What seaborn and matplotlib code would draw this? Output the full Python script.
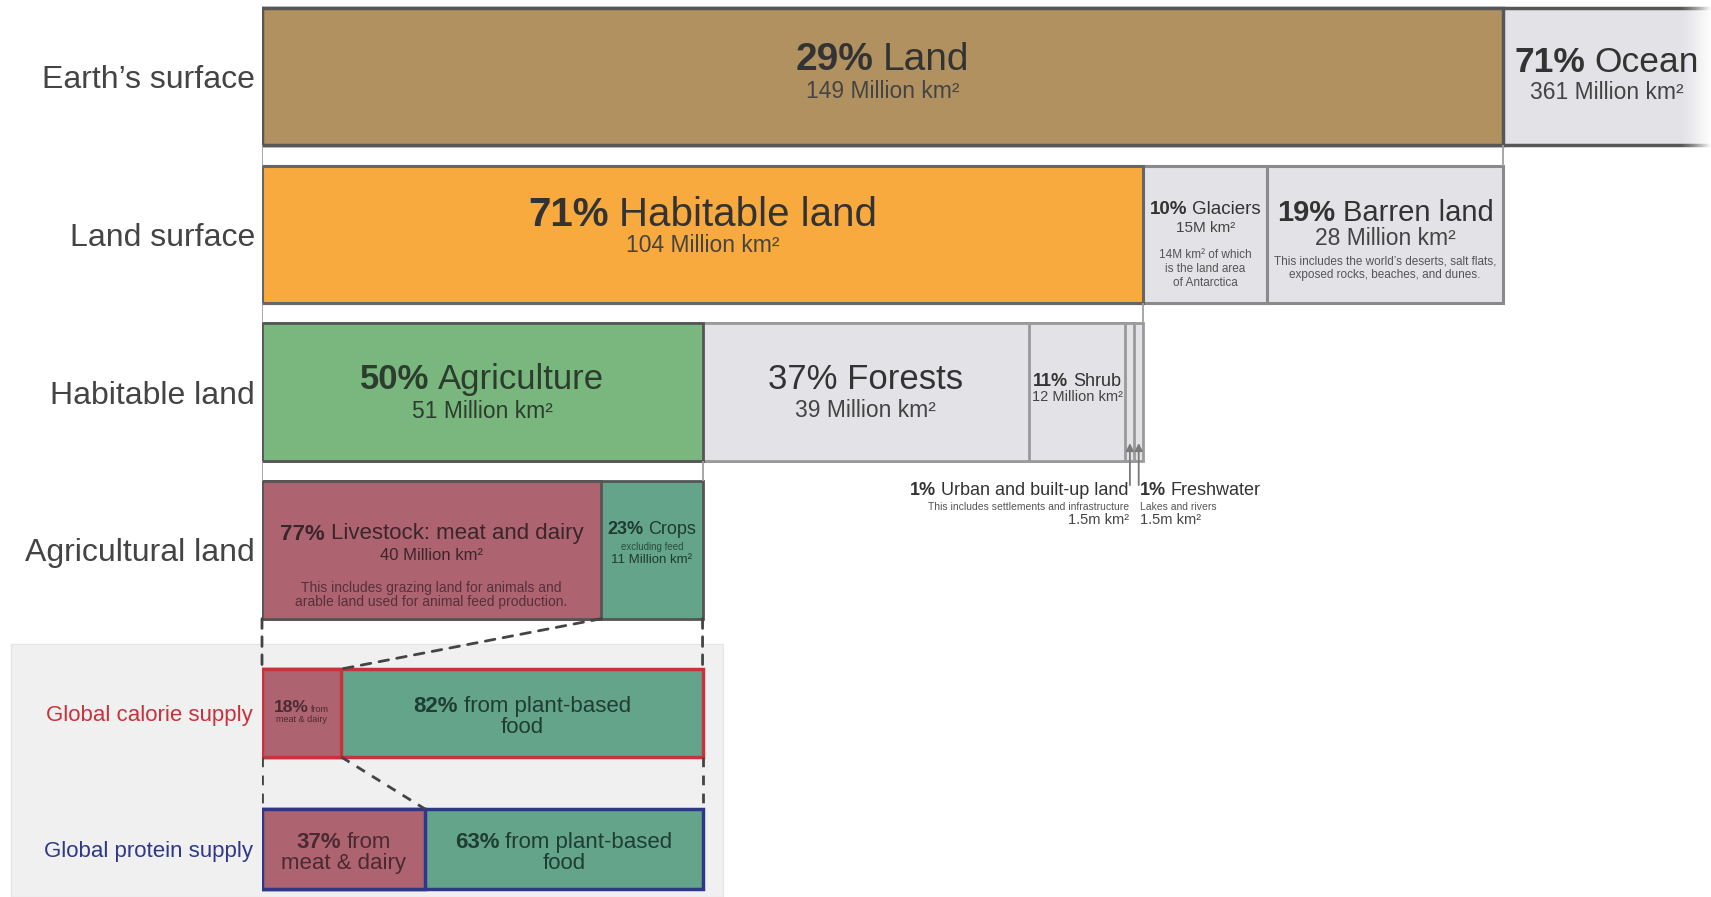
import numpy as np
import matplotlib
matplotlib.use("Agg")
import matplotlib.pyplot as plt
import seaborn as sns
from matplotlib.offsetbox import TextArea, HPacker, VPacker, AnnotationBbox
from matplotlib.patches import Rectangle, ConnectionPatch

# ---------------------------------------------------------------------------
# Data: how the Earth's surface is used (shares in %, areas in million km²)
# ---------------------------------------------------------------------------
rows = ["Earth’s surface", "Land surface", "Habitable land", "Agricultural land"]
supply_rows = ["Global calorie supply", "Global protein supply"]

earth_names = ["Land", "Ocean"]
earth_pct = [29, 71]
earth_area = [149, 361]

land_names = ["Habitable land", "Glaciers", "Barren land"]
land_pct = [71, 10, 19]
land_area = [104, 15, 28]

habitable_names = ["Agriculture", "Forests", "Shrub", "Urban and built-up land", "Freshwater"]
habitable_pct = [50, 37, 11, 1, 1]
habitable_area = [51, 39, 12, 1.5, 1.5]

agri_names = ["Livestock: meat and dairy", "Crops"]
agri_pct = [77, 23]
agri_area = [40, 11]

calorie_pct = [18, 82]
protein_pct = [37, 63]

# ---------------------------------------------------------------------------
# Styling
# ---------------------------------------------------------------------------
sns.set_theme(style="white")
plt.rcParams["font.family"] = ["Liberation Sans", "DejaVu Sans"]

BROWN, ORANGE, GREEN, GREY = "#b1915f", "#f8aa3e", "#7ab77f", "#e3e2e7"
MEAT, PLANT = "#ae6470", "#64a48b"
RED, BLUE = "#c8323b", "#2f3788"
TXT, TXT2 = "#333333", "#444444"

W, H = 1711, 897
X0 = 262                      # left edge of the bars (px)
UNIT = 12.41                  # px per unit; the land row spans 100 units
XMAX = (W - X0) / UNIT
TOP_BOTTOM = 640              # px where the upper block ends
ROW0, STEP = 76.3, 157.9      # upper rows: centre of first row, spacing (px)
SUP0, SSTEP = 713.0, 136.0    # supply rows: centre of first row, spacing (px)
BAR_H = 0.87
CAL_H, PRO_H = 0.647, 0.588

fig = plt.figure(figsize=(W / 100, H / 100), dpi=100)
fig.patch.set_facecolor("white")
ax = fig.add_axes([X0 / W, (H - TOP_BOTTOM) / H, (W - X0) / W, TOP_BOTTOM / H])
axb = fig.add_axes([X0 / W, 0, (W - X0) / W, (H - TOP_BOTTOM) / H])
for a in (ax, axb):
    a.set_facecolor("none")

# widths of every segment, each row scaled to the segment it splits up
land_w = np.array(land_pct, float)
earth_w = land_w.sum() * np.array(earth_pct, float) / earth_pct[0]
hab_w = land_w[0] * np.array(habitable_pct, float) / 100
agri_w = hab_w[0] * np.array(agri_pct, float) / 100
cal_w = agri_w.sum() * np.array(calorie_pct, float) / 100
pro_w = agri_w.sum() * np.array(protein_pct, float) / 100


def stacked(axis, order, row, widths, colors, edges, lw, height):
    """Stacked horizontal bar: cumulative bars drawn longest first."""
    ends = np.cumsum(widths)
    for end, c, e in reversed(list(zip(ends, colors, edges))):
        sns.barplot(x=[end], y=[row], order=order, orient="h", color=c,
                    saturation=1, edgecolor=e, linewidth=lw, width=height,
                    errorbar=None, ax=axis)
    return ends - widths, ends


e_s, e_e = stacked(ax, rows, rows[0], earth_w, [BROWN, GREY], ["#575757"] * 2, 2.5, BAR_H)
l_s, l_e = stacked(ax, rows, rows[1], land_w, [ORANGE, GREY, GREY],
                   ["#666666", "#8a8a8a", "#8a8a8a"], 2.2, BAR_H)
h_s, h_e = stacked(ax, rows, rows[2], hab_w, [GREEN] + [GREY] * 4,
                   ["#555555"] + ["#9a9a9a"] * 4, 2.0, BAR_H)
a_s, a_e = stacked(ax, rows, rows[3], agri_w, [MEAT, PLANT], ["#555555"] * 2, 2.0, BAR_H)
c_s, c_e = stacked(axb, supply_rows, supply_rows[0], cal_w, [MEAT, PLANT], [RED, RED], 2.5, CAL_H)
p_s, p_e = stacked(axb, supply_rows, supply_rows[1], pro_w, [MEAT, PLANT], [BLUE, BLUE], 2.5, PRO_H)


def mid(s, e, i):
    return (s[i] + e[i]) / 2


def ty(row, dpx):
    return row + dpx / STEP


def by(row, dpx):
    return row + dpx / SSTEP


def label(axis, x, y, lines, color=TXT, ha=0.5, line_sep=0):
    """Text block; each line is (parts, size) with parts as (text, weight[, size])."""
    boxes = []
    for parts, size in lines:
        kids = [TextArea(p[0], textprops=dict(fontsize=p[2] if len(p) > 2 else size,
                                              fontweight=p[1], color=color))
                for p in parts]
        if len(kids) == 1:
            boxes.append(kids[0])
        else:
            boxes.append(HPacker(children=kids, align="baseline", pad=0, sep=size * 0.26))
    box = boxes[0] if len(boxes) == 1 else VPacker(children=boxes, align="center", pad=0, sep=line_sep)
    ab = AnnotationBbox(box, (x, y), xycoords="data", frameon=False, pad=0,
                        box_alignment=(ha, 0.5), annotation_clip=False)
    ab.set_zorder(10)
    axis.add_artist(ab)


B, N = "bold", "normal"

# Earth's surface
label(ax, mid(e_s, e_e, 0), ty(0, -16), [([(f"{earth_pct[0]}%", B), (earth_names[0], N)], 28)])
label(ax, mid(e_s, e_e, 0), ty(0, 15), [([(f"{earth_area[0]} Million km²", N)], 16.5)], TXT2)
ocean_x = (e_s[1] + XMAX) / 2
label(ax, ocean_x, ty(0, -14), [([(f"{earth_pct[1]}%", B), (earth_names[1], N)], 25.5)])
label(ax, ocean_x, ty(0, 16), [([(f"{earth_area[1]} Million km²", N)], 16.5)], TXT2)

# Land surface
label(ax, mid(l_s, l_e, 0), ty(1, -19), [([(f"{land_pct[0]}%", B), (land_names[0], N)], 29)])
label(ax, mid(l_s, l_e, 0), ty(1, 11), [([(f"{land_area[0]} Million km²", N)], 16.5)], TXT2)
gx = mid(l_s, l_e, 1)
label(ax, gx, ty(1, -25), [([(f"{land_pct[1]}%", B), (land_names[1], N)], 13.5)])
label(ax, gx, ty(1, -6), [([(f"{land_area[1]}M km²", N)], 11)], TXT2)
label(ax, gx, ty(1, 35), [([("14M km² of which", N)], 8.5), ([("is the land area", N)], 8.5),
                          ([("of Antarctica", N)], 8.5)], "#555555", line_sep=1.5)
bx = mid(l_s, l_e, 2)
label(ax, bx, ty(1, -21), [([(f"{land_pct[2]}%", B), (land_names[2], N)], 21)])
label(ax, bx, ty(1, 4), [([(f"{land_area[2]} Million km²", N)], 16.5)], TXT2)
label(ax, bx, ty(1, 34), [([("This includes the world’s deserts, salt flats,", N)], 8.5),
                          ([("exposed rocks, beaches, and dunes.", N)], 8.5)], "#555555", line_sep=1)

# Habitable land
label(ax, mid(h_s, h_e, 0), ty(2, -13), [([(f"{habitable_pct[0]}%", B), (habitable_names[0], N)], 25)], "#2c3d2e")
label(ax, mid(h_s, h_e, 0), ty(2, 19), [([(f"{habitable_area[0]:g} Million km²", N)], 16.5)], "#2c3d2e")
label(ax, mid(h_s, h_e, 1), ty(2, -13), [([(f"{habitable_pct[1]}% {habitable_names[1]}", N)], 25)])
label(ax, mid(h_s, h_e, 1), ty(2, 18), [([(f"{habitable_area[1]:g} Million km²", N)], 16.5)], TXT2)
label(ax, mid(h_s, h_e, 2), ty(2, -11), [([(f"{habitable_pct[2]}%", B), (habitable_names[2], N)], 13)])
label(ax, mid(h_s, h_e, 2), ty(2, 5), [([(f"{habitable_area[2]:g} Million km²", N)], 10.5)], TXT2)

# small segments: arrows from below with their labels
ux, fx = mid(h_s, h_e, 3), mid(h_s, h_e, 4)
for xx in (ux, fx):
    ax.annotate("", xy=(xx, ty(2, 51)), xytext=(xx, ty(2, 93)),
                arrowprops=dict(arrowstyle="-|>", color="#7a7a7a", lw=1.3,
                                mutation_scale=11, shrinkA=0, shrinkB=0), zorder=9)
label(ax, ux - 0.1, ty(2, 98), [([(f"{habitable_pct[3]}%", B), (habitable_names[3], N)], 13)], ha=1)
label(ax, ux - 0.1, ty(2, 115), [([("This includes settlements and infrastructure", N)], 7.5)], "#555555", ha=1)
label(ax, ux - 0.1, ty(2, 128), [([(f"{habitable_area[3]:g}m km²", N)], 10.5)], TXT2, ha=1)
label(ax, fx + 0.1, ty(2, 98), [([(f"{habitable_pct[4]}%", B), (habitable_names[4], N)], 13)], ha=0)
label(ax, fx + 0.1, ty(2, 115), [([("Lakes and rivers", N)], 7.5)], "#555555", ha=0)
label(ax, fx + 0.1, ty(2, 128), [([(f"{habitable_area[4]:g}m km²", N)], 10.5)], TXT2, ha=0)

# Agricultural land
lx = mid(a_s, a_e, 0)
label(ax, lx, ty(3, -16), [([(f"{agri_pct[0]}%", B), (agri_names[0], N)], 16)], "#3a262a")
label(ax, lx, ty(3, 5), [([(f"{agri_area[0]} Million km²", N)], 12)], "#3a262a")
label(ax, lx, ty(3, 45), [([("This includes grazing land for animals and", N)], 10),
                          ([("arable land used for animal feed production.", N)], 10)], "#55303a")
cx = mid(a_s, a_e, 1)
label(ax, cx, ty(3, -20), [([(f"{agri_pct[1]}%", B), (agri_names[1], N)], 13)], "#1f3a30")
label(ax, cx, ty(3, -3), [([("excluding feed", N)], 7)], "#2a4d40")
label(ax, cx, ty(3, 10), [([(f"{agri_area[1]} Million km²", N)], 9.5)], "#1f3a30")

# Calorie and protein supply
label(axb, mid(c_s, c_e, 0), by(0, -1),
      [([(f"{calorie_pct[0]}%", B, 12.5), ("from", N, 6.5)], 6), ([("meat & dairy", N)], 6.5)],
      "#4a2a30", line_sep=0)
label(axb, mid(c_s, c_e, 1), by(0, 4),
      [([(f"{calorie_pct[1]}%", B), ("from plant-based", N)], 16), ([("food", N)], 16)],
      "#1f3d32", line_sep=0)
label(axb, mid(p_s, p_e, 0), by(1, 4),
      [([(f"{protein_pct[0]}%", B), ("from", N)], 16), ([("meat & dairy", N)], 16)],
      "#4a2a30", line_sep=0)
label(axb, mid(p_s, p_e, 1), by(1, 4),
      [([(f"{protein_pct[1]}%", B), ("from plant-based", N)], 16), ([("food", N)], 16)],
      "#1f3d32", line_sep=0)

# connectors in the gaps between rows: span of the segment being split
spans = [(0, e_e[0]), (0, l_e[0]), (0, h_e[0])]
for i, (xa, xb) in enumerate(spans):
    ax.vlines([xa, xb], i + BAR_H / 2, i + 1 - BAR_H / 2, color="#a0a0a0", lw=1.3, zorder=1)

# fade-out of the truncated ocean segment
fade = np.ones((1, 256, 4))
fade[..., 3] = np.linspace(0, 1, 256) ** 1.3
ax.imshow(fade, extent=(114.3, XMAX, 0.5, -0.5), aspect="auto", zorder=4,
          interpolation="bilinear")

# axes cosmetics
ax.set_xlim(0, XMAX)
ax.set_ylim((TOP_BOTTOM - ROW0) / STEP, -ROW0 / STEP)
axb.set_xlim(0, XMAX)
axb.set_ylim((H - SUP0) / SSTEP, (TOP_BOTTOM - SUP0) / SSTEP)
for a in (ax, axb):
    a.set_xlabel("")
    a.set_ylabel("")
    a.set_xticks([])
    for s in a.spines.values():
        s.set_visible(False)
ax.tick_params(axis="y", length=0, pad=5, labelsize=23, labelcolor="#444444")
axb.tick_params(axis="y", length=0, pad=6.5, labelsize=16)
for t, c in zip(axb.get_yticklabels(), [RED, BLUE]):
    t.set_color(c)

# dashed links from the agricultural row down to the supply rows
dash = dict(color="#444444", lw=2, linestyle=(0, (3.5, 3)))
agri_bottom = 3 + BAR_H / 2
for xa, xb in [(0, 0), (a_e[-1], c_e[-1]), (a_e[0], c_e[0])]:
    fig.add_artist(ConnectionPatch(xyA=(xa, agri_bottom), coordsA=ax.transData,
                                   xyB=(xb, -CAL_H / 2), coordsB=axb.transData, **dash))
for xa, xb in [(0, 0), (c_e[-1], p_e[-1]), (c_e[0], p_e[0])]:
    axb.plot([xa, xb], [CAL_H / 2, 1 - PRO_H / 2], zorder=2, **dash)

# light panel behind the supply rows
panel_right = axb.transData.transform((c_e[-1], 0))[0] + 20
fig.add_artist(Rectangle((11 / W, 0), panel_right / W - 11 / W, (H - 644) / H,
                         transform=fig.transFigure, facecolor="#f0f0f0",
                         edgecolor="#e6e6e6", lw=1, zorder=-10))

fig.savefig("out.png", dpi=100)
